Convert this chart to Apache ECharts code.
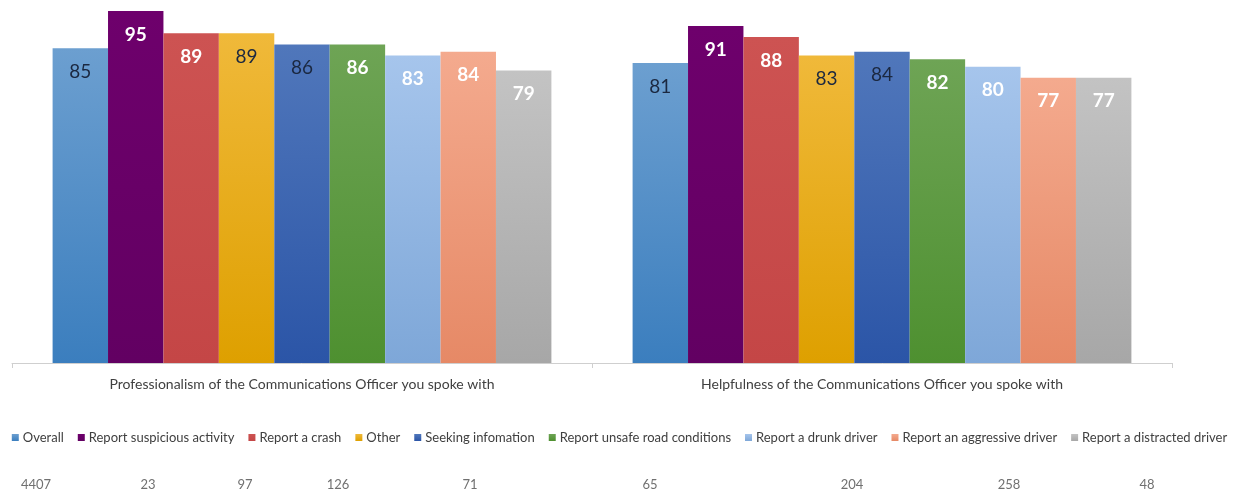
<!DOCTYPE html>
<html>
<head>
<meta charset="utf-8">
<script src="https://cdn.jsdelivr.net/npm/echarts@6/dist/echarts.min.js"></script>
<style>
  html, body { margin: 0; padding: 0; background: #fff; }
  #chart { width: 1239px; height: 494px; }
</style>
</head>
<body>
<div id="chart"></div>
<script>
// Satisfaction scores by call type, two questions.
const categories = [
  'Professionalism of the Communications Officer you spoke with',
  'Helpfulness of the Communications Officer you spoke with'
];
const seriesNames = [
  'Overall', 'Report suspicious activity', 'Report a crash', 'Other',
  'Seeking infomation', 'Report unsafe road conditions', 'Report a drunk driver',
  'Report an aggressive driver', 'Report a distracted driver'
];
const overall      = [85, 81];
const suspicious   = [95, 91];
const crash        = [89, 88];
const other        = [89, 83];
const seeking      = [86, 84];
const unsafeRoad   = [86, 82];
const drunk        = [83, 80];
const aggressive   = [84, 77];
const distracted   = [79, 77];
const seriesValues = [overall, suspicious, crash, other, seeking, unsafeRoad, drunk, aggressive, distracted];

// respondent counts shown under the legend
const sampleSizes = ['4407', '23', '97', '126', '71', '65', '204', '258', '48'];

// ---- styling ----
const FONT = 'Lato, "Open Sans", sans-serif';
// [top, bottom] gradient stops per series
const barColors = [
  ['#6c9fd0', '#3b7ebe'],
  ['#6e006c', '#620062'],
  ['#cd5352', '#c44646'],
  ['#f0b93a', '#dea000'],
  ['#5077bb', '#2b55a7'],
  ['#6ea455', '#4e9030'],
  ['#a6c5ec', '#7ea7d8'],
  ['#f4aa8e', '#e68966'],
  ['#c3c3c3', '#a7a7a7']
];
const labelDark = [true, false, false, true, true, false, false, false, false];
const sampleX = [36, 148, 245, 338, 470, 650, 852, 1009, 1147];

const chart = echarts.init(document.getElementById('chart'), null, { renderer: 'canvas' });

const series = seriesNames.map((name, i) => ({
  name, type: 'bar', data: seriesValues[i],
  barGap: '0%', barCategoryGap: '14%',
  itemStyle: {
    color: new echarts.graphic.LinearGradient(0, 0, 0, 1, [
      { offset: 0, color: barColors[i][0] },
      { offset: 1, color: barColors[i][1] }
    ])
  },
  label: {
    show: true, position: 'insideTop', distance: 14,
    fontFamily: FONT, fontSize: 19,
    fontWeight: labelDark[i] ? 'normal' : 'bold',
    color: labelDark[i] ? '#1b2840' : '#ffffff'
  },
  emphasis: { disabled: true }
}));

chart.setOption({
  backgroundColor: '#ffffff',
  animation: false,
  textStyle: { fontFamily: FONT },
  legend: {
    data: seriesNames, top: 426, left: 'center',
    icon: 'rect', itemWidth: 7, itemHeight: 7, itemGap: 14,
    textStyle: { fontFamily: FONT, fontSize: 13, color: '#404040', padding: [0, 0, 0, -1] }
  },
  grid: { left: 12, right: 67, top: 0, bottom: 131 },
  xAxis: {
    type: 'category', data: categories,
    axisLine: { lineStyle: { color: '#cfcfcf', width: 1 } },
    axisTick: { show: true, length: 5, lineStyle: { color: '#cfcfcf' } },
    axisLabel: { fontFamily: FONT, fontSize: 14, color: '#404040', margin: 14 }
  },
  yAxis: {
    type: 'value', min: 0, max: 98, show: false,
    splitLine: { show: false }
  },
  graphic: sampleSizes.map((s, i) => ({
    type: 'text', x: sampleX[i], y: 485,
    style: { text: s, fontFamily: FONT, fontSize: 13, fill: '#707070',
             textAlign: 'center', textVerticalAlign: 'middle' }
  })),
  series
});
</script>
</body>
</html>
